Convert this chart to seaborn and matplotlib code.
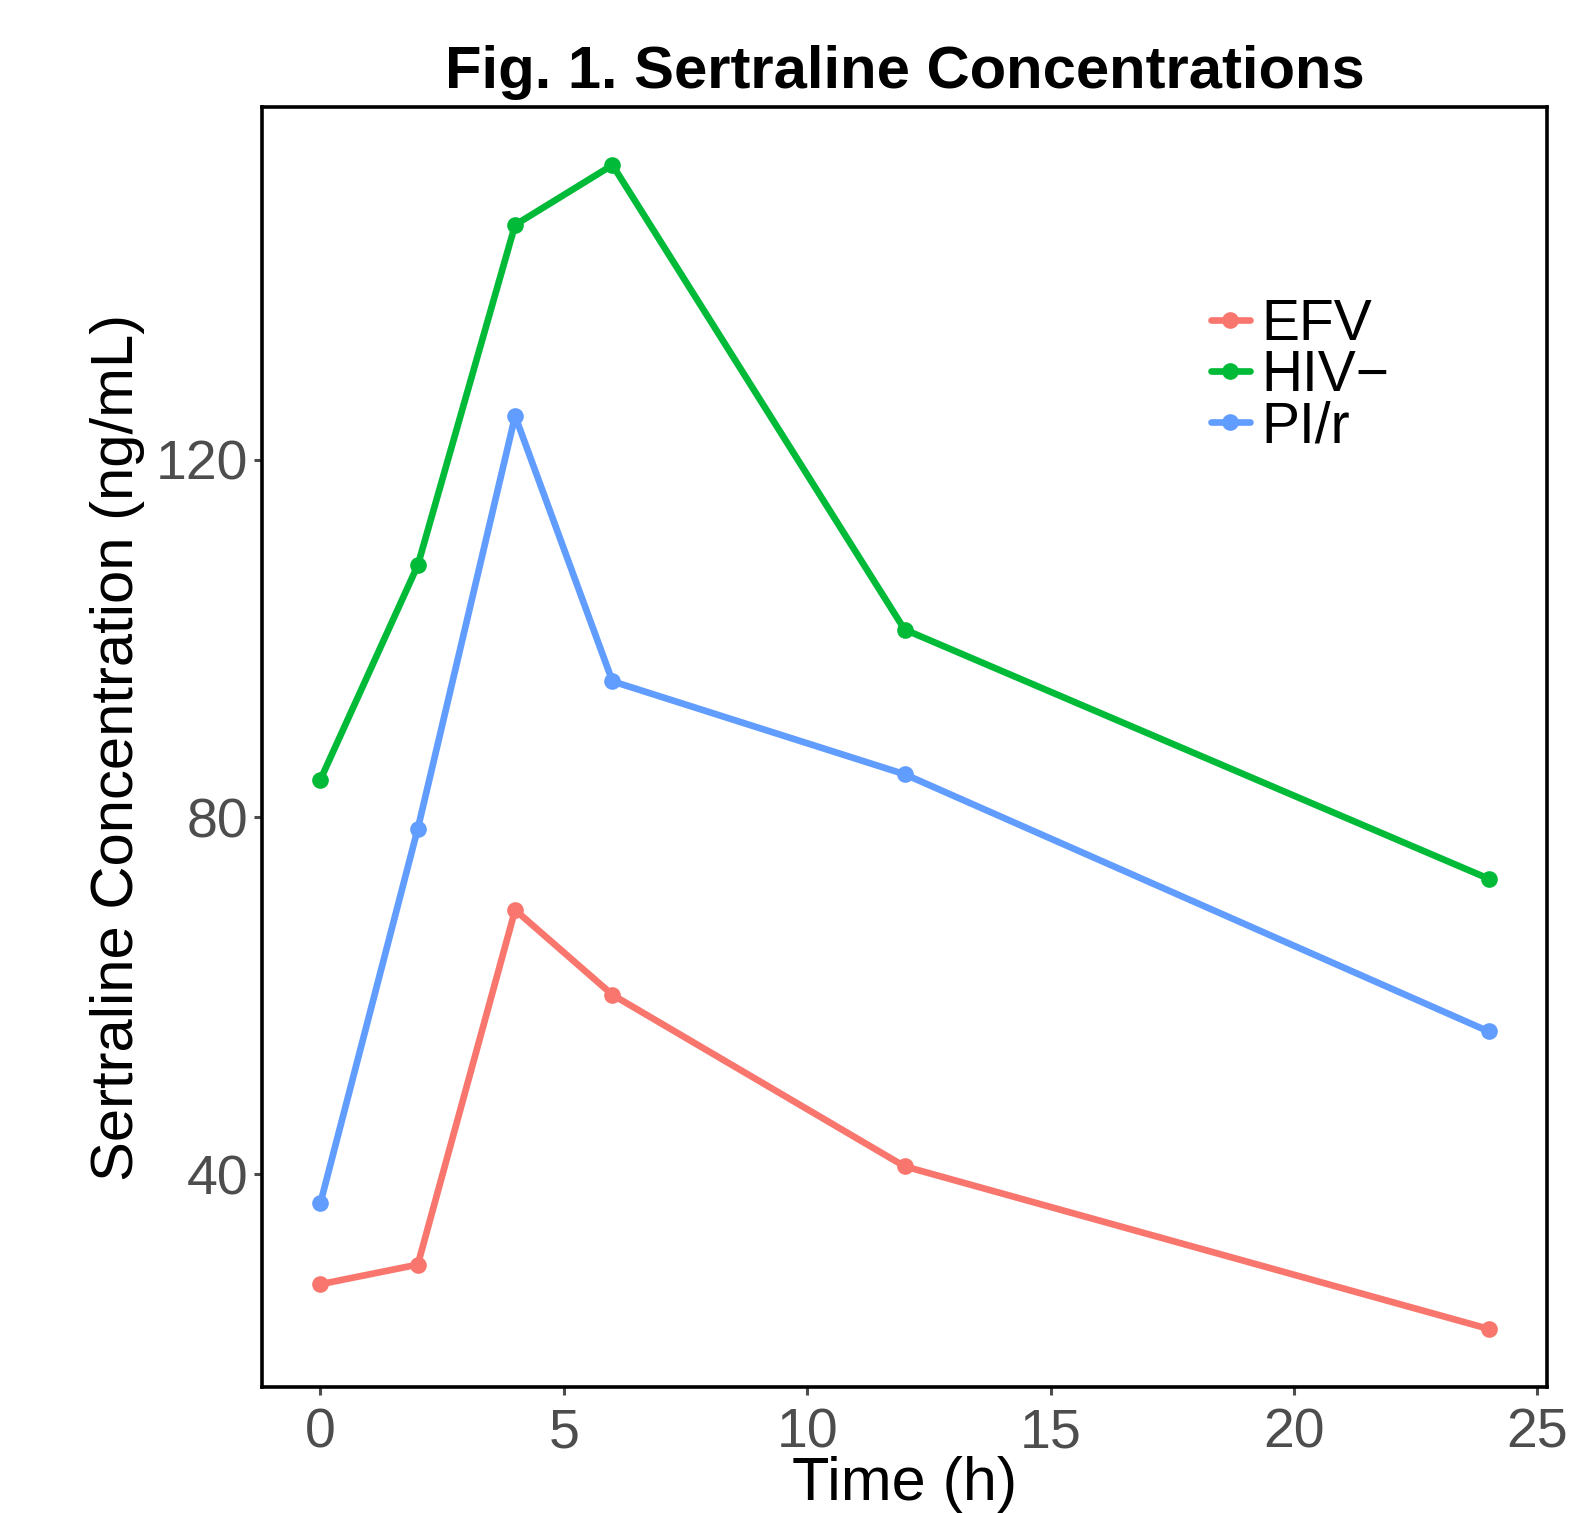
import pandas as pd
import numpy as np
import matplotlib
matplotlib.use("Agg")
import matplotlib.pyplot as plt
import seaborn as sns

# data
times = [0, 2, 4, 6, 12, 24]
efv = [27.7, 29.9, 69.6, 60.1, 40.9, 22.7]
hiv_neg = [84.2, 108.2, 146.3, 153.0, 101.0, 73.1]
pi_r = [36.8, 78.7, 124.9, 95.2, 84.8, 56.0]
groups = ['EFV', 'HIV\u2212', 'PI/r']
colors = ['#F8766D', '#00BA38', '#619CFF']

df = pd.DataFrame({
    'Time': times * 3,
    'Conc': efv + hiv_neg + pi_r,
    'Group': [groups[0]] * 6 + [groups[1]] * 6 + [groups[2]] * 6,
})

sns.set_style('white')
plt.rcParams['font.family'] = ['Liberation Sans', 'DejaVu Sans']
plt.rcParams['text.color'] = 'black'
plt.rcParams['axes.labelcolor'] = 'black'

fig = plt.figure(figsize=(15.69, 15.13), dpi=100)
ax = fig.add_axes([0.167, 0.0833, 0.819, 0.846])

sns.lineplot(data=df, x='Time', y='Conc', hue='Group', palette=colors,
             marker='o', markersize=12, markeredgewidth=0, linewidth=4.8,
             ax=ax, legend=False)

ax.set_xlim(-1.2, 25.2)
ax.set_ylim(16.2, 159.5)
ax.set_xticks([0, 5, 10, 15, 20, 25])
ax.set_yticks([40, 80, 120])

for s in ax.spines.values():
    s.set_color('black')
    s.set_linewidth(2.6)

ax.tick_params(axis='both', labelsize=40, labelcolor='#4D4D4D', color='#4D4D4D',
               length=6, width=2.2, direction='out', bottom=True, left=True, pad=4)
ax.tick_params(axis='x', pad=9)

ax.set_xlabel('Time (h)', fontsize=44, labelpad=-3)
ax.set_ylabel('Sertraline Concentration (ng/mL)', fontsize=43, labelpad=8)
ax.set_title('Fig. 1. Sertraline Concentrations', fontsize=43, fontweight='bold', pad=14)

handles = [plt.Line2D([], [], color=c, marker='o', markersize=12, linewidth=4.8,
                      markeredgewidth=0) for c in colors]
ax.legend(handles, groups, loc='upper left', bbox_to_anchor=(0.716, 0.873),
          frameon=False, fontsize=41, handlelength=0.7, handletextpad=0.2,
          labelspacing=-0.05, borderpad=0)

fig.savefig('out.png', dpi=100)
